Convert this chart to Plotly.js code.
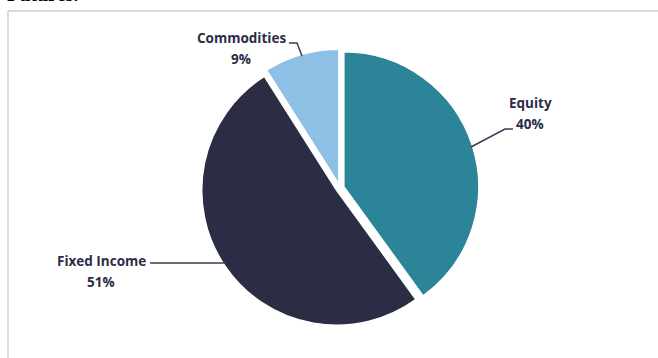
<!DOCTYPE html>
<html>
<head>
<meta charset="utf-8">
<script src="https://cdn.plot.ly/plotly-3.0.1.min.js"></script>
<style>
html,body{margin:0;padding:0;background:#fff;}
#chart{width:658px;height:358px;}
</style>
</head>
<body>
<div id="chart"></div>
<script>
// ---- data ----
const labels = ['Equity', 'Fixed Income', 'Commodities'];
const values = [40, 51, 9];
const colors = ['#2C8499', '#2B2D45', '#8EC0E6'];
const pageHeading = 'Futures.';

// ---- layout helpers ----
const W = 658, H = 358;
const px = x => x / W;
const py = y => 1 - y / H;
const textColor = '#2B2D45';
const lineColor = '#3A3C52';

// label anchor positions (pixels) for name / percent lines, and leader paths
const labelPos = [
  {name: [530, 103], pct: [530, 124]},
  {name: [101, 261], pct: [101, 282]},
  {name: [241, 38], pct: [241, 59]}
];
const leaders = [
  [[471, 147], [505, 129], [513, 129]],
  [[150, 263], [226, 263]],
  [[289, 43], [297, 43], [302, 56]]
];

const total = values.reduce((a, b) => a + b, 0);
const annotations = [];
labels.forEach((lab, i) => {
  const pct = Math.round(values[i] / total * 100) + '%';
  annotations.push({
    x: px(labelPos[i].name[0]), y: py(labelPos[i].name[1]), xref: 'paper', yref: 'paper',
    text: lab, showarrow: false, xanchor: 'center', yanchor: 'middle',
    font: {family: 'Open Sans, sans-serif', size: 13.5, color: textColor, weight: 700}
  });
  annotations.push({
    x: px(labelPos[i].pct[0]), y: py(labelPos[i].pct[1]), xref: 'paper', yref: 'paper',
    text: pct, showarrow: false, xanchor: 'center', yanchor: 'middle',
    font: {family: 'Open Sans, sans-serif', size: 13.5, color: textColor, weight: 700}
  });
});
annotations.push({
  x: px(5), y: 1, xref: 'paper', yref: 'paper', text: pageHeading, showarrow: false,
  xanchor: 'left', yanchor: 'bottom', yshift: -7,
  font: {family: 'Liberation Serif, serif', size: 20, color: '#000', weight: 700}
});

const shapes = leaders.map(pts => ({
  type: 'path', xref: 'paper', yref: 'paper',
  path: pts.map((p, k) => (k ? 'L' : 'M') + px(p[0]) + ',' + py(p[1])).join(' '),
  line: {color: lineColor, width: 1.5}
}));
// frame lines
shapes.push({type: 'line', xref: 'paper', yref: 'paper', x0: px(8), x1: 1.01, y0: py(11), y1: py(11), line: {color: '#CFCFCF', width: 1.5}});
shapes.push({type: 'line', xref: 'paper', yref: 'paper', x0: px(8), x1: px(8), y0: py(11), y1: -0.01, line: {color: '#CFCFCF', width: 1.5}});

const cx = 340, cy = 188, half = 139;
const trace = {
  type: 'pie',
  labels: labels,
  values: values,
  sort: false,
  direction: 'clockwise',
  rotation: 0,
  pull: [0.03, 0.03, 0.03],
  marker: {colors: colors, line: {color: '#ffffff', width: 1.5}},
  textinfo: 'none',
  hoverinfo: 'label+percent',
  domain: {x: [px(cx - half), px(cx + half)], y: [py(cy + half), py(cy - half)]}
};

const layout = {
  width: W, height: H,
  margin: {l: 0, r: 0, t: 0, b: 0},
  paper_bgcolor: '#ffffff',
  showlegend: false,
  annotations: annotations,
  shapes: shapes
};

Plotly.newPlot('chart', [trace], layout, {displayModeBar: false, staticPlot: true});
</script>
</body>
</html>
